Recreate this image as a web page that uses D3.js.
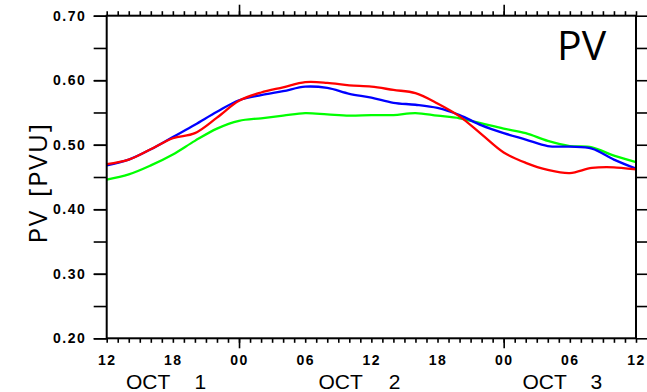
<!DOCTYPE html>
<html>
<head>
<meta charset="utf-8">
<script src="https://cdn.jsdelivr.net/npm/d3@7"></script>
<style>
  html, body { margin: 0; padding: 0; background: #fff; }
  svg { display: block; }
  .tick text { font-family: "Liberation Sans", Arial, sans-serif; font-weight: bold; font-size: 14px; letter-spacing: 1.5px; fill: #000; }
</style>
</head>
<body>
<svg id="chart" width="647" height="392"></svg>
<script>
// Hours since 12 UTC, 1 October (sampled every 2 hours)
const hours = d3.range(0, 49, 2);

const redPV = [0.470, 0.477, 0.493, 0.510, 0.518, 0.542, 0.568, 0.581, 0.589, 0.597,
               0.596, 0.592, 0.590, 0.585, 0.580, 0.564, 0.544, 0.516, 0.488, 0.472,
               0.461, 0.456, 0.464, 0.465, 0.462];
const bluePV = [0.468, 0.477, 0.493, 0.512, 0.531, 0.551, 0.569, 0.577, 0.583, 0.590,
                0.588, 0.579, 0.573, 0.565, 0.562, 0.557, 0.546, 0.530, 0.518, 0.508,
                0.498, 0.497, 0.494, 0.477, 0.463];
const greenPV = [0.446, 0.454, 0.468, 0.485, 0.506, 0.525, 0.537, 0.541, 0.545, 0.549,
                 0.547, 0.545, 0.546, 0.546, 0.549, 0.545, 0.541, 0.533, 0.525, 0.518,
                 0.506, 0.498, 0.496, 0.483, 0.473];

const seriesColors = ["#ff0000", "#0000ff", "#00ff00"];

// Labelled hours on the time axis (every 6 h) and their text
const labelHours = [0, 6, 12, 18, 24, 30, 36, 42, 48];
const labelText = ["12", "18", "00", "06", "12", "18", "00", "06", "12"];
// Day boundaries (00 UTC) get the long ticks
const dayHours = [12, 36];
// Date captions under the axis: hour position of "OCT" and of the day number
const dateOct = [1.75, 19.2, 37.7];
const dateNum = [8.5, 26.1, 44.4];
const dateDay = ["1", "2", "3"];

const yMajor = [0.20, 0.30, 0.40, 0.50, 0.60, 0.70];
const yMinor = [0.20, 0.25, 0.30, 0.35, 0.40, 0.45, 0.50, 0.55, 0.60, 0.65, 0.70];

const W = 647, H = 392;
const margin = { top: 15.7, right: 11, bottom: 53.7, left: 106.7 };
const iw = W - margin.left - margin.right;
const ih = H - margin.top - margin.bottom;

const svg = d3.select("#chart");
const g = svg.append("g").attr("transform", `translate(${margin.left},${margin.top})`);

const x = d3.scaleLinear().domain([0, 48]).range([0, iw]);
const y = d3.scaleLinear().domain([0.20, 0.70]).range([ih, 0]);

// Curves
const line = d3.line()
  .x((d, i) => x(hours[i]))
  .y(d => y(d))
  .curve(d3.curveCatmullRom.alpha(0.5));

[greenPV, bluePV, redPV].forEach((vals, k) => {
  g.append("path")
    .datum(vals)
    .attr("fill", "none")
    .attr("stroke", [seriesColors[2], seriesColors[1], seriesColors[0]][k])
    .attr("stroke-width", 2.3)
    .attr("stroke-linejoin", "round")
    .attr("d", line);
});

function styleAxis(sel) {
  sel.select(".domain").remove();
  sel.selectAll(".tick line").attr("stroke", "#000").attr("stroke-width", 1.6);
}

// Hourly minor ticks, bottom and top
g.append("g").attr("transform", `translate(0,${ih})`)
  .call(d3.axisBottom(x).tickValues(d3.range(0, 49)).tickSize(4.5).tickFormat(""))
  .call(styleAxis);
g.append("g")
  .call(d3.axisTop(x).tickValues(d3.range(0, 49)).tickSize(4.5).tickFormat(""))
  .call(styleAxis);
// Day ticks, bottom and top
g.append("g").attr("transform", `translate(0,${ih})`)
  .call(d3.axisBottom(x).tickValues(dayHours).tickSize(10).tickFormat(""))
  .call(styleAxis);
g.append("g")
  .call(d3.axisTop(x).tickValues(dayHours).tickSize(11).tickFormat(""))
  .call(styleAxis);
// Hour labels
g.append("g").attr("transform", `translate(0,${ih})`)
  .call(d3.axisBottom(x).tickValues(labelHours).tickSize(0).tickPadding(17)
    .tickFormat((d, i) => labelText[i]))
  .call(styleAxis);

// Left and right value axes
g.append("g")
  .call(d3.axisLeft(y).tickValues(yMinor).tickSize(13).tickFormat(""))
  .call(styleAxis);
g.append("g")
  .call(d3.axisLeft(y).tickValues(yMajor).tickSize(13).tickPadding(7.5).tickFormat(d3.format(".2f")))
  .call(styleAxis);
g.append("g").attr("transform", `translate(${iw},0)`)
  .call(d3.axisRight(y).tickValues(yMinor).tickSize(13).tickFormat(""))
  .call(styleAxis);

// Frame
g.append("rect")
  .attr("x", 0).attr("y", 0).attr("width", iw).attr("height", ih)
  .attr("fill", "none").attr("stroke", "#000").attr("stroke-width", 2);

// Date captions
const dateFont = '"Liberation Sans", Arial, sans-serif';
dateOct.forEach((h, i) => {
  g.append("text")
    .attr("x", x(h)).attr("y", ih + 51)
    .attr("font-family", dateFont).attr("font-size", 21)
    .text("OCT");
  g.append("text")
    .attr("x", x(dateNum[i])).attr("y", ih + 51)
    .attr("text-anchor", "middle")
    .attr("font-family", dateFont).attr("font-size", 21)
    .text(dateDay[i]);
});

// Axis title and panel label
svg.append("text")
  .attr("transform", "translate(47,183) rotate(-90)")
  .attr("text-anchor", "middle")
  .attr("font-family", '"Open Sans", sans-serif')
  .attr("font-size", 26)
  .attr("letter-spacing", 1.5)
  .attr("word-spacing", 4)
  .text("PV [PVU]");

svg.append("text")
  .attr("x", 557).attr("y", 60)
  .attr("font-family", '"Open Sans", sans-serif')
  .attr("font-size", 41)
  .text("PV");
</script>
</body>
</html>
